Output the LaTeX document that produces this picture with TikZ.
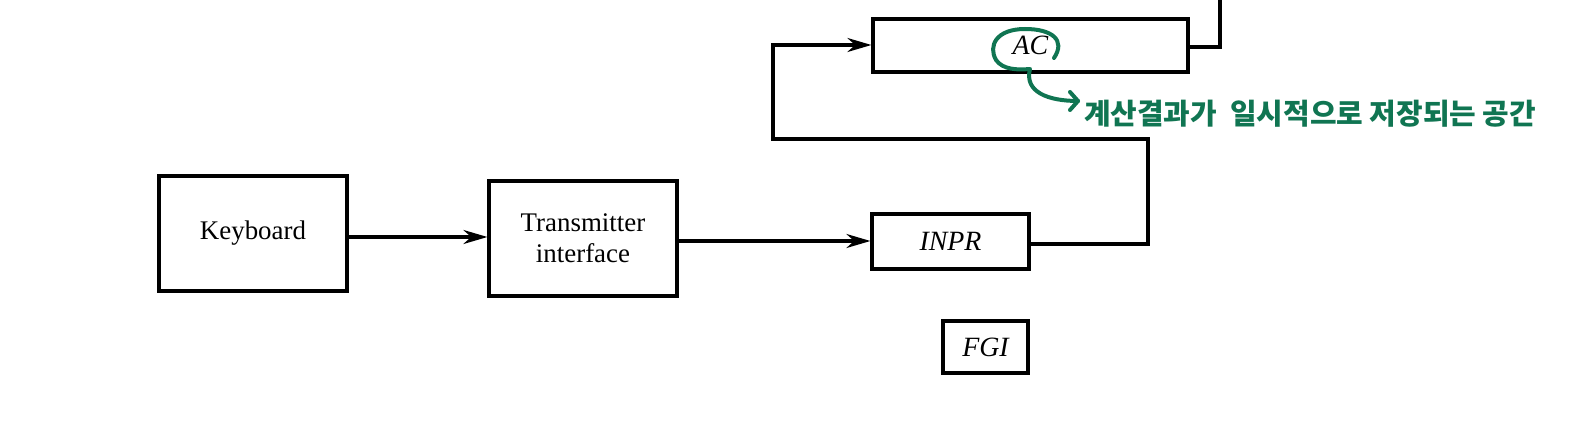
\documentclass[tikz,border=0pt]{standalone}
\usepackage{fontspec}
\setmainfont{Liberation Serif}
\newfontfamily\kofont{Noto Sans CJK KR}
\usetikzlibrary{arrows.meta}
\definecolor{hand}{HTML}{107552}
\tikzset{
  blk/.style={draw, line width=3.2bp, rectangle, inner sep=0pt, font=\fontsize{27}{31}\selectfont, align=center},
  reg/.style={blk, font=\fontsize{28}{31}\selectfont\itshape},
  wire/.style={line width=3.2bp},
  arr/.style={wire, -{Stealth[length=24bp,width=14bp]}},
  pen/.style={draw=hand, line width=4bp, line cap=round, line join=round},
}
\begin{document}
\begin{tikzpicture}[x=1bp,y=-1bp]
\useasboundingbox (0,0) rectangle (1596,443);
\node[blk, minimum width=188bp, minimum height=115bp] (kb) at (253,233.5) {Keyboard};
\node[blk, minimum width=188bp, minimum height=115bp] (tx) at (583,238.5) {Transmitter\\interface};
\node[reg, minimum width=157bp, minimum height=55bp] (inpr) at (950.5,241.5) {INPR};
\node[reg, minimum width=85bp, minimum height=52bp] (fgi) at (985.5,347) {FGI};
\node[reg, minimum width=315bp, minimum height=53bp] (ac) at (1030.5,45.5) {AC};
\coordinate (y1) at (0,237);
\coordinate (y2) at (0,241);
\coordinate (r1) at (1148,139);
\coordinate (l1) at (773,45);
\coordinate (top) at (1220,-5);
\draw[arr] (kb.east |- y1) -- (tx.west |- y1);
\draw[arr] (tx.east |- y2) -- (inpr.west |- y2);
\draw[arr] (inpr.east |- 0,244) -| (r1) -| (l1) -- (ac.west |- l1);
\draw[wire] (ac.east |- 0,47) -| (top);
% annotation
\coordinate (tip) at (1078,101);
\draw[pen] (1054,58) .. controls (1066,40) and (1052,29) .. (1025,29)
  .. controls (996,29) and (988,46) .. (996,60)
  .. controls (1003,70) and (1018,70) .. (1030,69)
  .. controls (1024,92) and (1048,101) .. (tip);
\draw[pen] (1070,92) -- (tip) -- (1070,110);
\node[anchor=west, text=hand, font=\kofont\bfseries\fontsize{29}{32}\selectfont, inner sep=0pt] (note) at (1084,114) {계산결과가\ \ 일시적으로 저장되는 공간};
\end{tikzpicture}
\end{document}
